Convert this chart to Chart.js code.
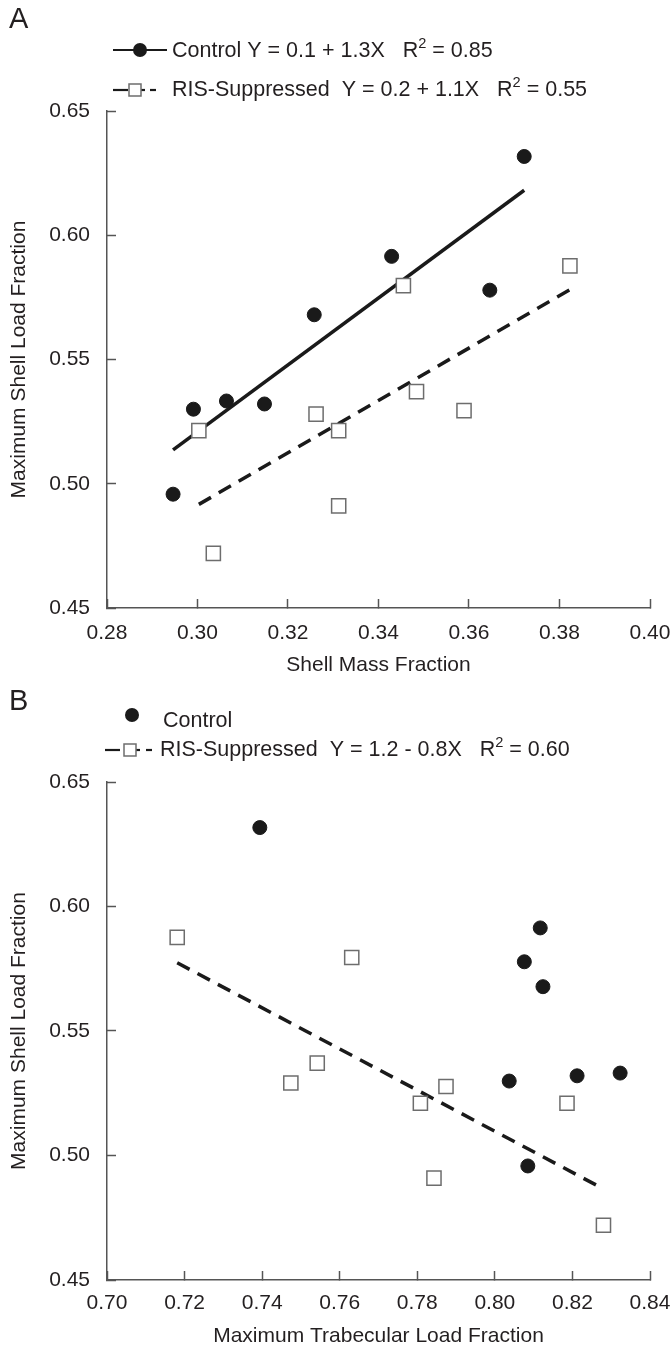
<!DOCTYPE html>
<html>
<head>
<meta charset="utf-8">
<script src="https://cdn.jsdelivr.net/npm/chart.js@4.4.1/dist/chart.umd.min.js"></script>
<style>
  html, body { margin: 0; background: #fff; overflow: hidden; }
  .panel { position: relative; width: 672px; }
  canvas { display: block; }
</style>
</head>
<body>
<div class="panel" style="height:680px"><canvas id="chartA"></canvas></div>
<div class="panel" style="height:671px"><canvas id="chartB"></canvas></div>
<script>
// Panel A - shell mass fraction
const ctrlA_x = [0.2946, 0.2991, 0.3064, 0.3148, 0.3258, 0.3429, 0.3646, 0.3722];
const ctrlA_y = [0.4958, 0.5300, 0.5333, 0.5321, 0.5680, 0.5915, 0.5779, 0.6317];
const risA_x = [0.3003, 0.3035, 0.3262, 0.3312, 0.3312, 0.3484, 0.3589, 0.3455, 0.3823];
const risA_y = [0.5214, 0.4720, 0.5280, 0.5214, 0.4911, 0.5371, 0.5294, 0.5797, 0.5877];
// fitted lines, ends
const fitCtrlA_x = [0.2946, 0.3722];
const fitCtrlA_y = [0.5136, 0.6181];
const fitRisA_x = [0.3003, 0.3823];
const fitRisA_y = [0.4917, 0.5781];
const xTicksA = [0.28, 0.40, 0.02];

// Panel B - trabecular load fraction
const ctrlB_x = [0.7394, 0.8117, 0.8076, 0.8124, 0.8037, 0.8212, 0.8323, 0.8085];
const ctrlB_y = [0.6317, 0.5914, 0.5778, 0.5678, 0.5299, 0.5320, 0.5331, 0.4958];
const risB_x = [0.7181, 0.7631, 0.7474, 0.7542, 0.7808, 0.7874, 0.7843, 0.8186, 0.8280];
const risB_y = [0.5876, 0.5795, 0.5291, 0.5371, 0.5210, 0.5277, 0.4909, 0.5210, 0.4720];
const fitRisB_x = [0.7181, 0.8269];
const fitRisB_y = [0.5774, 0.4875];
const xTicksB = [0.70, 0.84, 0.02];

const yTicks = [0.45, 0.65, 0.05];

const legendA = [
  ['Control Y = 0.1 + 1.3X   R', '2', ' = 0.85'],
  ['RIS-Suppressed  Y = 0.2 + 1.1X   R', '2', ' = 0.55']
];
const legendB = [
  ['Control'],
  ['RIS-Suppressed  Y = 1.2 - 0.8X   R', '2', ' = 0.60']
];

const INK = '#231f20';
const AXIS = '#555555';
const FONT = 'Liberation Sans, Arial, sans-serif';

function pts(xs, ys) {
  return xs.map((x, i) => ({ x: x, y: ys[i] }));
}

function drawParts(ctx, parts, x, y, size) {
  ctx.textBaseline = 'middle';
  ctx.textAlign = 'left';
  parts.forEach((p, i) => {
    const sup = i === 1;
    ctx.font = (sup ? size * 0.68 : size) + 'px ' + FONT;
    ctx.fillText(p, x, sup ? y - size * 0.32 : y);
    x += ctx.measureText(p).width;
  });
}

function circle(ctx, x, y) {
  ctx.fillStyle = '#1a1a1a';
  ctx.beginPath();
  ctx.arc(x, y, 7, 0, Math.PI * 2);
  ctx.fill();
}

function square(ctx, x, y) {
  ctx.fillStyle = '#fff';
  ctx.strokeStyle = '#6d6d6d';
  ctx.lineWidth = 1.5;
  ctx.fillRect(x - 6, y - 6, 12, 12);
  ctx.strokeRect(x - 6, y - 6, 12, 12);
}

function seg(ctx, x1, x2, y) {
  ctx.strokeStyle = '#1a1a1a';
  ctx.lineWidth = 2.2;
  ctx.beginPath();
  ctx.moveTo(x1, y);
  ctx.lineTo(x2, y);
  ctx.stroke();
}

// panel letter + legend
const decor = {
  id: 'decor',
  afterDraw(chart, args, opts) {
    const ctx = chart.ctx;
    ctx.save();
    ctx.fillStyle = INK;
    ctx.font = '29px ' + FONT;
    ctx.textBaseline = 'middle';
    ctx.fillText(opts.letter, 9, opts.letterY);
    if (opts.panel === 'A') {
      seg(ctx, 113, 167, 50);
      circle(ctx, 140, 50);
      ctx.fillStyle = INK;
      drawParts(ctx, opts.legend[0], 172, 51, 21.5);
      seg(ctx, 113, 128, 90);
      seg(ctx, 141, 145, 90);
      seg(ctx, 150, 156, 90);
      square(ctx, 135, 90);
      ctx.fillStyle = INK;
      drawParts(ctx, opts.legend[1], 172, 90, 21.5);
    } else {
      circle(ctx, 132, 35);
      ctx.fillStyle = INK;
      drawParts(ctx, opts.legend[0], 163, 41, 21.5);
      seg(ctx, 105, 120, 70);
      seg(ctx, 136, 140, 70);
      seg(ctx, 146, 152, 70);
      square(ctx, 130, 70);
      ctx.fillStyle = INK;
      drawParts(ctx, opts.legend[1], 160, 70, 21.5);
    }
    ctx.restore();
  }
};

function axis(range, title, tickPad, fitSize, horiz, titlePad) {
  return {
    type: 'linear',
    min: range[0],
    max: range[1],
    ticks: {
      stepSize: range[2],
      color: INK,
      font: { family: FONT, size: 21 },
      padding: tickPad,
      callback: v => v.toFixed(2)
    },
    grid: { drawOnChartArea: false, tickLength: -9, tickColor: AXIS, tickWidth: 1.5 },
    border: { color: AXIS, width: 1.5 },
    title: {
      display: true,
      text: title,
      color: INK,
      font: { family: FONT, size: 21 },
      padding: titlePad
    },
    afterFit: s => {
      if (horiz) {
        s.height = fitSize;
        // only keep room for half of the last label
        s.paddingRight = 22;
        s.paddingLeft = 0;
      } else {
        s.width = fitSize;
      }
    }
  };
}

function makeChart(id, cfg) {
  const ds = [];
  if (cfg.ctrl) {
    ds.push({
      data: cfg.ctrl, pointStyle: 'circle', pointRadius: 7,
      backgroundColor: '#1a1a1a', borderColor: '#1a1a1a', borderWidth: 1
    });
  }
  ds.push({
    data: cfg.ris, pointStyle: 'rect', pointRadius: 10,
    backgroundColor: '#ffffff', borderColor: '#6d6d6d', borderWidth: 1.5
  });
  cfg.fits.forEach(f => {
    ds.push({
      type: 'line', data: f.data, showLine: true, pointRadius: 0,
      borderColor: '#1a1a1a', borderWidth: 3.5, borderDash: f.dash,
      fill: false
    });
  });

  return new Chart(document.getElementById(id), {
    type: 'scatter',
    data: { datasets: ds },
    options: {
      responsive: true,
      maintainAspectRatio: false,
      animation: false,
      devicePixelRatio: 1,
      layout: { padding: { top: cfg.top, right: 22, left: 0, bottom: 0 } },
      plugins: {
        legend: { display: false },
        tooltip: { enabled: false },
        decor: cfg.decor
      },
      scales: {
        x: axis(cfg.xr, cfg.xTitle, cfg.xPad, cfg.xFit, true, { top: 0, bottom: 2 }),
        y: axis(yTicks, 'Maximum Shell Load Fraction', 26, 107, false, { top: 7, bottom: 0 })
      }
    },
    plugins: [decor]
  });
}

makeChart('chartA', {
  ctrl: pts(ctrlA_x, ctrlA_y),
  ris: pts(risA_x, risA_y),
  fits: [
    { data: pts(fitCtrlA_x, fitCtrlA_y), dash: [] },
    { data: pts(fitRisA_x, fitRisA_y), dash: [14, 9] }
  ],
  xr: xTicksA,
  xTitle: 'Shell Mass Fraction',
  xPad: 22,
  xFit: 72,
  top: 111,
  decor: { panel: 'A', letter: 'A', letterY: 20, legend: legendA }
});

makeChart('chartB', {
  ctrl: pts(ctrlB_x, ctrlB_y),
  ris: pts(risB_x, risB_y),
  fits: [
    { data: pts(fitRisB_x, fitRisB_y), dash: [14, 9] }
  ],
  xr: xTicksB,
  xTitle: 'Maximum Trabecular Load Fraction',
  xPad: 20,
  xFit: 71,
  top: 102,
  decor: { panel: 'B', letter: 'B', letterY: 22, legend: legendB }
});
</script>
</body>
</html>
